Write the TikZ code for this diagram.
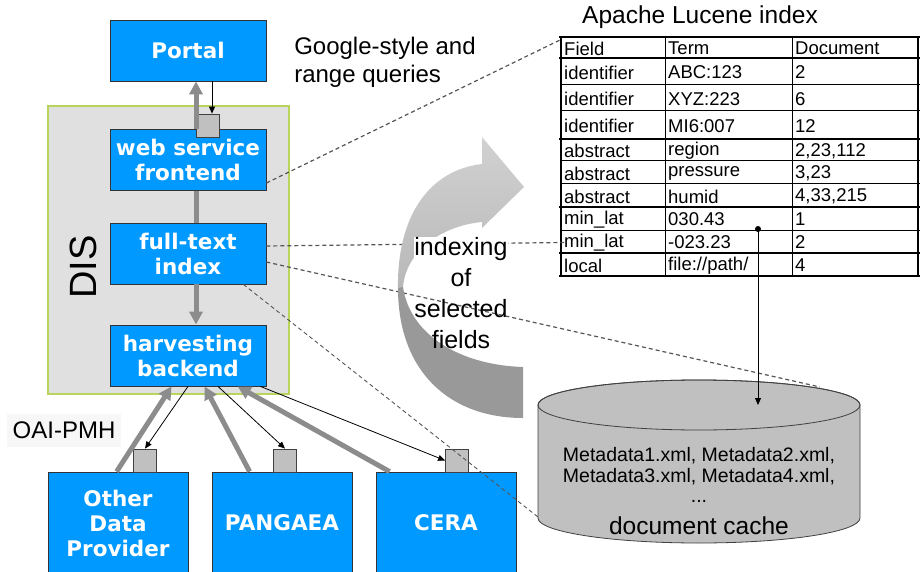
\documentclass[tikz,border=0pt]{standalone}
\usepackage{fontspec}
\setmainfont{Liberation Sans}
\newfontfamily\verdfont{DejaVu Sans}
\usetikzlibrary{arrows.meta,calc}

\definecolor{boxblue}{RGB}{0,153,255}
\definecolor{disgray}{RGB}{224,224,224}
\definecolor{disedge}{RGB}{184,212,90}
\definecolor{portgray}{RGB}{192,192,192}
\definecolor{pipegray}{RGB}{140,140,140}
\definecolor{dashgray}{RGB}{85,85,85}
\definecolor{cachegray}{RGB}{192,192,192}

\begin{document}
\begin{tikzpicture}[x=1pt,y=-1pt,
    svc/.style={draw=black!80, line width=0.8pt, fill=boxblue, text=white,
      font=\verdfont\bfseries\fontsize{21.5}{25}\selectfont, align=center,
      minimum width=156pt, minimum height=61pt, inner sep=0pt},
    port/.style={draw=black!75, line width=0.8pt, fill=portgray,
      minimum width=23pt, minimum height=23pt, inner sep=0pt},
    feed/.style={draw=pipegray, line width=5pt, -{Triangle[length=13pt,width=13pt]}},
    pipe/.style={draw=pipegray, line width=5pt},
    req/.style={draw=black, line width=0.8pt, -{Triangle[length=7pt,width=6pt]}},
    hint/.style={draw=dashgray, line width=1.2pt, dash pattern=on 4pt off 3pt},
    cell/.style={anchor=west, inner sep=0pt, font=\fontsize{18.5}{20}\selectfont},
    caption/.style={font=\fontsize{24}{28}\selectfont, align=left}]
  \useasboundingbox (0,0) rectangle (920,572);
  \clip (0,0) rectangle (920,572);

  % DIS and its parts
  \node[draw=disedge, line width=1.5pt, fill=disgray, minimum width=241pt,
    minimum height=288pt, inner sep=0pt] (dis) at (168.5,250) {};
  \node[rotate=90, font=\fontsize{38}{40}\selectfont] (dislbl) at (83,267) {DIS};
  \node[svc] (portal) at (188,50.5) {Portal};
  \node[svc] (wsf) at (188,160) {web service\\frontend};
  \node[svc] (fti) at (188,253.5) {full-text\\index};
  \node[svc] (hvb) at (188,355.5) {harvesting\\backend};
  \node[port] (sq0) at (208,125.5) {};

  % data providers
  \node[svc, minimum width=140pt, minimum height=102pt] (odp) at (118,523) {Other\\Data\\Provider};
  \node[svc, minimum width=140pt, minimum height=102pt] (pangaea) at (282,523) {PANGAEA};
  \node[svc, minimum width=140pt, minimum height=102pt] (cera) at (446,523) {CERA};
  \node[port] (sqA) at (145,460.5) {};
  \node[port] (sqB) at (285,460.5) {};
  \node[port] (sqC) at (457,460.5) {};

  \node[caption] (gq) at (385,62) {Google-style and\\range queries};
  \node[font=\fontsize{24}{28}\selectfont, fill=black!3, inner xsep=6pt, inner ysep=8pt] (oai) at (64,430) {OAI-PMH};

  % Lucene table
  \node[font=\fontsize{24.5}{26}\selectfont] (lucenetitle) at (700,17) {Apache Lucene index};
  \coordinate (lucene) at (560,40);
  \foreach \ya/\yb/\fa/\tb/\dc [count=\r] in {
      37/58/Field/Term/Document,
      58/85/identifier/ABC:123/2,
      85/111/identifier/XYZ:223/6,
      111/139/identifier/MI6:007/12,
      139/161/abstract/region/{2,23,112},
      161/184/abstract/pressure/{3,23},
      184/207/abstract/humid/{4,33,215},
      207/230/min\_lat/030.43/1,
      230/253/min\_lat/-023.23/2,
      253/276/local/{file://path/}/4}
  {
    \node[cell] (fld\r) at (564,{(\ya+\yb)/2+1}) {\fa};
    \node[cell] (trm\r) at (668,{(\ya+\yb)/2+1}) {\tb};
    \node[cell] (doc\r) at (795,{(\ya+\yb)/2+1}) {\dc};
    \draw[line width=1pt] (560,\yb) -- (920,\yb);
  }
  \foreach \y in {37,58,139,207,253,276}
    \draw[line width=2.8pt] (559,\y) -- (920,\y);
  \draw[line width=2.8pt] (561,36) -- (561,277);
  \draw[line width=2.8pt] (918,36) -- (918,277);
  \draw[line width=1pt] (665,37) -- (665,276);
  \draw[line width=1pt] (792,37) -- (792,276);
  \coordinate (hit) at (758,229);

  % cache cylinder
  \coordinate (cachetop) at (699,405);
  \coordinate (cacheNE) at (820,387);
  \coordinate (cacheSW) at (538,517);
  \filldraw[fill=cachegray, draw=black!75, line width=0.8pt]
    (538,405) -- (538,518) arc[start angle=180, end angle=0, x radius=161, y radius=25]
    -- (860,405) arc[start angle=0, end angle=-180, x radius=161, y radius=25] -- cycle;
  \draw[black!75, line width=0.8pt] (cachetop) ellipse[x radius=161, y radius=25];

  % links to the index
  \draw[hint] ($(wsf.east)+(0,23)$) -- (lucene);
  \draw[hint] ($(fti.east)+(0,-7.5)$) -- (fld9.west);
  \draw[hint] ($(fti.east)+(0,8.5)$) -- (cacheNE);
  \draw[hint, line width=0.9pt] ($(fti.south east)+(-23,0)$) -- (cacheSW);

  % curved indexing arrow
  \shade[top color=black!18, bottom color=black!28]
    (398,292) .. controls (396,215) and (430,170) .. (482,164) -- (482,137)
    -- (524,187) -- (482,228) -- (482,222)
    .. controls (440,226) and (406,252) .. (403,287) -- cycle;
  \fill[black!40]
    (398,288) .. controls (398,372) and (450,418) .. (523,418) -- (523,367)
    .. controls (460,365) and (410,335) .. (403,287) -- cycle;
  \node[font=\fontsize{25}{31}\selectfont, align=center] (idx) at (461,293)
    {{\fboxsep=0pt\colorbox{white}{indexing}}\\of\\selected\\fields};

  \node[font=\fontsize{19.5}{20.5}\selectfont, align=center] (cache) at (699,491)
    {Metadata1.xml, Metadata2.xml,\\Metadata3.xml, Metadata4.xml,\\...\\[11pt]
     {\fontsize{24.5}{26}\selectfont document cache}};
  \fill (hit) circle (3);
  \draw[req] (hit) -- (hit |- cachetop);

  % DIS internal flow
  \draw[feed] ($(wsf.north)+(8,0)$) -- ($(portal.south)+(8,0)$);
  \draw[req] ($(portal.south)+(24,0)$) -- ($(sq0.north)+(4,0)$);
  \draw[pipe] ($(wsf.south)+(8,0)$) -- ($(fti.north)+(8,0)$);
  \draw[feed] ($(fti.south)+(8,0)$) -- ($(hvb.north)+(8,0)$);

  % harvesting
  \draw[feed] ($(odp.north west)+(69,0)$) -- ($(hvb.south west)+(62,0)$);
  \draw[feed] ($(pangaea.north west)+(38,0)$) -- ($(hvb.south west)+(95,0)$);
  \draw[feed] ($(cera.north west)+(14,0)$) -- ($(hvb.south west)+(128,0)$);
  \draw[req] (hvb.south) -- (sqA.north);
  \draw[req] ($(hvb.south)+(30,0)$) -- (sqB.north);
  \draw[req] ($(hvb.south east)+(-6,0)$) -- (sqC.west);
\end{tikzpicture}
\end{document}
